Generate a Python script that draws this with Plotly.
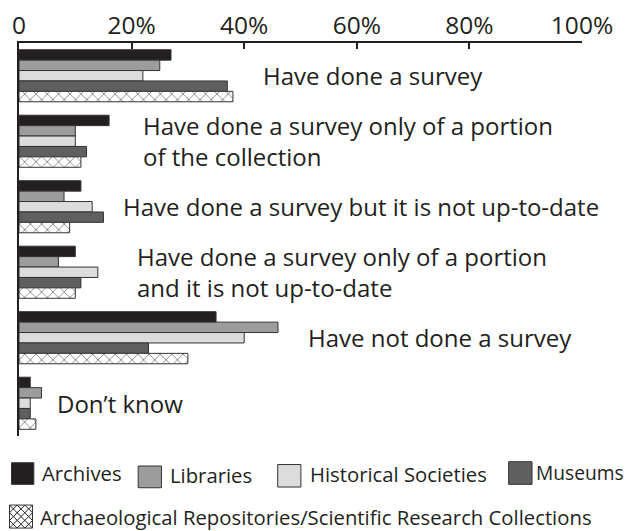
import plotly.graph_objects as go

categories = [
    "Have done a survey",
    "Have done a survey only of a portion<br>of the collection",
    "Have done a survey but it is not up-to-date",
    "Have done a survey only of a portion<br>and it is not up-to-date",
    "Have not done a survey",
    "Don’t know",
]
series_names = ["Archives", "Libraries", "Historical Societies", "Museums",
                "Archaeological Repositories/Scientific Research Collections"]
archives = [27, 16, 11, 10, 35, 2]
libraries = [25, 10, 8, 7, 46, 4]
historical = [22, 10, 13, 14, 40, 2]
museums = [37, 12, 15, 11, 23, 2]
archaeological = [38, 11, 9, 10, 30, 3]
tick_vals = [0, 20, 40, 60, 80, 100]
tick_text = ["0", "20%", "40%", "60%", "80%", "100%"]

values = [archives, libraries, historical, museums, archaeological]
colors = ["#231f20", "#9c9c9c", "#dcdcdc", "#5f5f5f", "white"]
ink = "#231f20"
FONT = "Open Sans"

W, H = 628, 531
ML, MR, MT, MB = 18.5, 46.3, 43.3, 95
PW, PH = W - ML - MR, H - MT - MB

fig = go.Figure()
cat_keys = [c.replace("<br>", " ") for c in categories]
for i, (name, vals, col) in enumerate(zip(series_names, values, colors)):
    marker = dict(color=col, line=dict(color="#333333", width=1))
    if i == 4:
        marker["pattern"] = dict(shape="x", size=8, solidity=0.12,
                                 fgcolor=ink, bgcolor="white", fillmode="replace")
    fig.add_trace(go.Bar(x=vals, y=cat_keys, orientation="h", name=name,
                         marker=marker, showlegend=False))

# category labels as annotations
label_x = [43.2, 21.9, 18.3, 20.7, 51.1, 6.5]
for k, (cat, lx) in enumerate(zip(categories, label_x)):
    fig.add_annotation(x=lx, y=cat_keys[k], xref="x", yref="y", text=cat,
                       showarrow=False, xanchor="left", yanchor="middle",
                       align="left", borderpad=0,
                       font=dict(family=FONT, size=24, color=ink))

def px2paper(px, py):
    return (px - ML) / PW, (H - MB - py) / PH

# manual legend
legend_items = [
    (0, (11, 462.7, 33.3, 484.3), 40.7, 472.5, 20.3),
    (1, (137.7, 466, 161, 487.7), 168.3, 474.5, 20.3),
    (2, (277.3, 464.5, 300.5, 487), 308.3, 473.5, 20.3),
    (3, (508.3, 461.7, 531.7, 484.3), 534.5, 472.5, 19.2),
    (4, (9, 505, 32, 528), 38.3, 516.5, 20.3),
]
for idx, (x0, y0, x1, y1), tx, ty, fs in legend_items:
    px0, py1 = px2paper(x0, y0)
    px1, py0 = px2paper(x1, y1)
    fig.add_shape(type="rect", xref="paper", yref="paper", x0=px0, x1=px1,
                  y0=py0, y1=py1, fillcolor=colors[idx],
                  line=dict(color="#333333", width=1))
    if idx == 4:
        n = 3
        step = (x1 - x0) / n
        path = ""
        for j in range(-n, n + 1):
            for sgn in (1, -1):
                pts = []
                for t in range(0, 201):
                    xx = x0 + (x1 - x0) * t / 200
                    if sgn == 1:
                        yy = y0 + (xx - x0) - j * step
                    else:
                        yy = y1 - (xx - x0) - j * step
                    if y0 - 1e-6 <= yy <= y1 + 1e-6:
                        pts.append((xx, yy))
                if len(pts) >= 2:
                    a = px2paper(*pts[0]); b = px2paper(*pts[-1])
                    path += f"M{a[0]},{a[1]} L{b[0]},{b[1]} "
        fig.add_shape(type="path", xref="paper", yref="paper", path=path,
                      line=dict(color=ink, width=1))
    ax, ay = px2paper(tx, ty)
    fig.add_annotation(x=ax, y=ay, xref="paper", yref="paper",
                       text=series_names[idx], showarrow=False,
                       xanchor="left", yanchor="middle", borderpad=0,
                       font=dict(family=FONT, size=fs, color=ink))

fig.update_layout(
    width=W, height=H,
    margin=dict(l=ML, r=MR, t=MT, b=MB, pad=0, autoexpand=False),
    paper_bgcolor="white", plot_bgcolor="white",
    barmode="group", bargap=0.205, bargroupgap=0,
    font=dict(family=FONT, color=ink),
)
fig.update_xaxes(side="top", range=[0, 100], tickvals=tick_vals, ticktext=tick_text,
                 ticks="inside", ticklen=6, tickwidth=1.5, tickcolor=ink,
                 ticklabelstandoff=-3, automargin=False,
                 showline=True, linecolor=ink, linewidth=1.5, showgrid=False,
                 zeroline=False, tickfont=dict(family=FONT, size=24.5, color=ink))
fig.update_yaxes(type="category", categoryorder="array", categoryarray=cat_keys,
                 range=[5.5, -0.5], showline=True, linecolor=ink, linewidth=1.5,
                 automargin=False,
                 showticklabels=False, ticks="", showgrid=False, zeroline=False)

fig.write_html("out.html", config={"displayModeBar": False},
               post_script="document.body.style.margin='0';")
